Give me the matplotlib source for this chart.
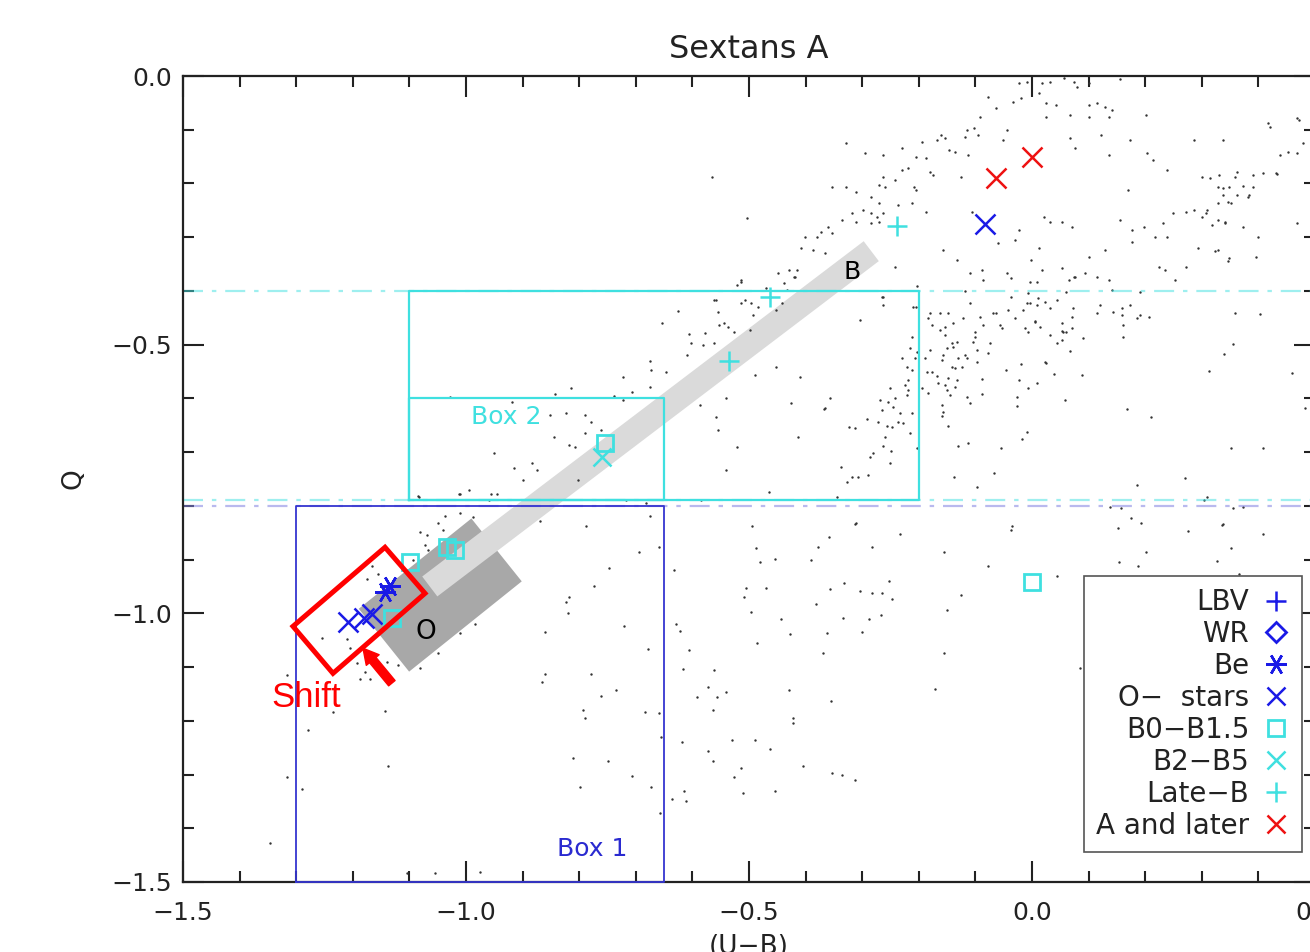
import matplotlib
matplotlib.use("Agg")
import matplotlib.pyplot as plt
from matplotlib.patches import Polygon
from matplotlib.lines import Line2D
from matplotlib.ticker import MultipleLocator

# ---------------- data (U-B, Q) ----------------
# classified stars
o_ub = [-1.2085, -1.1802, -1.1661, -0.083]
o_q = [-1.017, -1.009, -1.002, -0.276]
be_ub = [-1.143, -1.134]
be_q = [-0.961, -0.950]
b0_ub = [-0.754, -1.034, -1.019, -1.099, -1.131, 0.0]
b0_q = [-0.683, -0.877, -0.883, -0.905, -1.009, -0.942]
b2_ub = [-0.760]
b2_q = [-0.709]
lateb_ub = [-0.239, -0.463, -0.535]
lateb_q = [-0.279, -0.412, -0.531]
alate_ub = [-0.064, 0.0]
alate_q = [-0.190, -0.151]

# field stars (small black dots), read region by region
field_box2_right = [
    (-0.203, -0.391), (-0.265, -0.412), (-0.263, -0.426), (-0.304, -0.454), (-0.210, -0.430),
    (-0.212, -0.486), (-0.216, -0.507), (-0.230, -0.525), (-0.207, -0.525), (-0.203, -0.514),
    (-0.221, -0.542), (-0.212, -0.547), (-0.251, -0.581), (-0.219, -0.566), (-0.224, -0.575),
    (-0.219, -0.585), (-0.242, -0.600), (-0.221, -0.594), (-0.357, -0.600), (-0.367, -0.620),
    (-0.269, -0.603), (-0.254, -0.607), (-0.265, -0.622), (-0.246, -0.616), (-0.212, -0.628),
    (-0.233, -0.628), (-0.292, -0.639), (-0.272, -0.644), (-0.256, -0.652), (-0.247, -0.654),
    (-0.237, -0.644), (-0.228, -0.646), (-0.323, -0.654), (-0.313, -0.655), (-0.216, -0.665),
    (-0.260, -0.672), (-0.263, -0.689), (-0.249, -0.698), (-0.281, -0.702), (-0.286, -0.709),
    (-0.251, -0.721), (-0.203, -0.693), (-0.337, -0.728), (-0.307, -0.747), (-0.318, -0.747),
    (-0.290, -0.743), (-0.327, -0.756), (-0.345, -0.784), (-0.311, -0.832),
]
field_cluster = [
    (-0.180, -0.441), (-0.163, -0.441), (-0.148, -0.441), (-0.184, -0.451), (-0.122, -0.451),
    (-0.140, -0.460), (-0.069, -0.441), (-0.064, -0.441), (-0.087, -0.464), (-0.092, -0.449),
    (-0.042, -0.436), (-0.016, -0.436), (-0.030, -0.451), (-0.009, -0.423), (-0.004, -0.423),
    (0.009, -0.426), (-0.057, -0.464), (-0.053, -0.469), (-0.012, -0.469), (-0.007, -0.477),
    (0.005, -0.458), (0.014, -0.467), (-0.177, -0.464), (-0.163, -0.473), (-0.154, -0.467),
    (-0.101, -0.477), (-0.101, -0.486), (-0.104, -0.495), (-0.154, -0.482), (-0.141, -0.497),
    (-0.140, -0.505), (-0.150, -0.507), (-0.180, -0.510), (-0.189, -0.525), (-0.157, -0.520),
    (-0.159, -0.529), (-0.133, -0.495), (-0.131, -0.525), (-0.118, -0.520), (-0.115, -0.525),
    (-0.141, -0.542), (-0.136, -0.544), (-0.124, -0.542), (-0.097, -0.533), (-0.097, -0.510),
    (-0.078, -0.516), (-0.074, -0.497), (-0.186, -0.551), (-0.177, -0.551), (-0.168, -0.559),
    (-0.148, -0.562), (-0.133, -0.566), (-0.166, -0.572), (-0.154, -0.575), (-0.194, -0.581),
    (-0.184, -0.590), (-0.150, -0.585), (-0.136, -0.579), (-0.145, -0.594), (-0.115, -0.598),
    (-0.088, -0.564), (-0.088, -0.592), (-0.110, -0.609), (-0.159, -0.613), (-0.157, -0.626),
    (-0.159, -0.633), (-0.148, -0.652), (-0.113, -0.683), (-0.131, -0.689), (-0.055, -0.693),
    (-0.138, -0.747), (-0.067, -0.739), (-0.097, -0.765), (-0.046, -0.547), (-0.023, -0.566),
    (-0.019, -0.536), (-0.007, -0.581), (0.009, -0.572), (-0.027, -0.598), (-0.027, -0.615),
    (-0.009, -0.663), (-0.018, -0.676), (0.025, -0.534), (0.039, -0.555), (0.058, -0.603),
    (0.032, -0.482), (0.053, -0.492), (0.067, -0.512), (0.053, -0.475), (0.060, -0.477),
    (0.032, -0.432), (0.044, -0.417), (0.060, -0.402), (0.071, -0.449), (0.065, -0.380),
    (0.076, -0.374), (-0.044, -0.367), (-0.004, -0.384), (0.009, -0.384), (-0.087, -0.380),
    (-0.118, -0.400), (-0.110, -0.423), (-0.037, -0.412), (-0.007, -0.404), (0.011, -0.413),
    (0.023, -0.421), (-0.035, -0.838), (0.005, -0.456), (0.053, -0.460), (0.055, -0.477),
    (0.044, -0.497), (0.072, -0.432), (0.071, -0.469), (0.090, -0.488), (0.023, -0.533),
    (0.088, -0.557),
]
field_upper = [
    (-0.023, -0.013), (-0.009, -0.011), (0.012, -0.032), (0.018, -0.013), (0.032, -0.011),
    (0.057, -0.004), (0.074, -0.011), (0.080, -0.020), (0.101, -0.013), (0.155, -0.006),
    (-0.078, -0.039), (-0.064, -0.060), (-0.034, -0.048), (-0.019, -0.041), (0.025, -0.050),
    (0.042, -0.054), (0.101, -0.054), (0.115, -0.050), (0.129, -0.058), (0.141, -0.063),
    (0.067, -0.073), (0.101, -0.076), (0.136, -0.076), (0.025, -0.076), (-0.092, -0.076),
    (0.201, -0.073), (0.122, -0.110), (0.173, -0.119), (0.067, -0.115), (0.076, -0.134),
    (0.136, -0.147), (0.286, -0.119), (-0.115, -0.101), (-0.102, -0.097), (-0.095, -0.110),
    (-0.161, -0.110), (-0.154, -0.115), (-0.168, -0.119), (-0.194, -0.123), (-0.118, -0.114),
    (-0.044, -0.101), (-0.051, -0.119), (-0.230, -0.134), (-0.263, -0.147), (-0.295, -0.143),
    (-0.136, -0.142), (-0.113, -0.147), (-0.147, -0.138), (-0.205, -0.151), (-0.187, -0.153),
    (-0.329, -0.125), (-0.175, -0.184), (-0.180, -0.179), (-0.230, -0.175), (-0.219, -0.171),
    (-0.242, -0.194), (-0.263, -0.188), (-0.270, -0.203), (-0.260, -0.207), (-0.353, -0.207),
    (-0.329, -0.207), (-0.311, -0.216), (-0.208, -0.207), (-0.205, -0.212), (-0.125, -0.188),
    (-0.565, -0.188), (-0.284, -0.225), (-0.270, -0.236), (-0.237, -0.240), (-0.212, -0.236),
    (-0.299, -0.250), (-0.284, -0.255), (-0.274, -0.263), (-0.263, -0.255), (-0.318, -0.255),
    (-0.311, -0.272), (-0.336, -0.268), (-0.360, -0.281), (-0.504, -0.264), (-0.284, -0.274),
    (-0.270, -0.272), (-0.187, -0.253), (-0.106, -0.253), (-0.023, -0.287), (-0.060, -0.311),
    (-0.030, -0.305), (0.032, -0.272), (0.053, -0.272), (0.071, -0.281), (0.021, -0.263),
    (-0.353, -0.292), (-0.373, -0.291), (-0.380, -0.300), (-0.401, -0.300), (-0.387, -0.324),
    (-0.408, -0.320), (-0.366, -0.330), (-0.415, -0.361), (-0.429, -0.361), (-0.419, -0.374),
    (-0.449, -0.367), (-0.242, -0.356), (-0.157, -0.324), (-0.133, -0.343), (-0.110, -0.367),
    (-0.088, -0.361), (0.012, -0.320), (-0.002, -0.343), (0.018, -0.361), (0.053, -0.358),
    (0.074, -0.374), (0.094, -0.367), (0.136, -0.380), (0.115, -0.374), (-0.037, -0.376),
    (-0.514, -0.380), (-0.521, -0.389), (-0.558, -0.417), (-0.507, -0.417), (-0.484, -0.430),
    (-0.442, -0.423), (-0.263, -0.412), (-0.205, -0.430), (0.191, -0.402), (0.141, -0.399),
]
field_right = [
    (0.203, -0.143), (0.214, -0.156), (0.239, -0.175), (0.300, -0.188), (0.330, -0.184),
    (0.362, -0.179), (0.390, -0.184), (0.431, -0.181), (0.348, -0.207), (0.362, -0.222),
    (0.383, -0.222), (0.352, -0.236), (0.249, -0.255), (0.272, -0.253), (0.286, -0.250),
    (0.307, -0.255), (0.231, -0.274), (0.155, -0.268), (0.177, -0.287), (0.198, -0.281),
    (0.329, -0.268), (0.341, -0.272), (0.318, -0.277), (0.399, -0.300), (0.293, -0.320),
    (0.329, -0.324), (0.348, -0.339), (0.396, -0.337), (0.217, -0.300), (0.239, -0.300),
    (0.177, -0.309), (0.129, -0.324), (0.101, -0.337), (0.224, -0.356), (0.272, -0.356),
    (0.253, -0.380), (0.235, -0.361), (0.438, -0.147), (0.468, -0.143), (0.472, -0.082),
    (0.417, -0.088), (0.337, -0.119), (0.170, -0.212), (0.420, -0.095), (0.468, -0.078),
    (0.452, -0.142), (0.479, -0.125), (0.314, -0.190), (0.359, -0.188), (0.408, -0.181),
    (0.433, -0.183), (0.329, -0.207), (0.337, -0.209), (0.373, -0.205), (0.390, -0.207),
    (0.337, -0.222), (0.329, -0.236), (0.346, -0.235), (0.382, -0.225), (0.309, -0.250),
    (0.300, -0.263), (0.341, -0.274), (0.373, -0.281), (0.323, -0.326), (0.346, -0.345),
    (0.468, -0.274), (0.359, -0.441), (0.403, -0.443), (0.355, -0.499), (0.339, -0.518),
    (0.313, -0.549), (0.459, -0.553), (0.352, -0.693), (0.408, -0.693), (0.309, -0.784),
    (0.355, -0.804), (0.337, -0.834), (0.408, -0.853), (0.352, -0.879), (0.327, -0.903),
    (0.366, -0.926), (0.120, -0.426), (0.115, -0.441), (0.143, -0.439), (0.159, -0.432),
    (0.173, -0.426), (0.159, -0.445), (0.161, -0.464), (0.161, -0.486), (0.186, -0.451),
    (0.191, -0.445), (0.207, -0.449), (0.168, -0.620), (0.210, -0.635), (0.482, -0.618),
    (0.270, -0.749), (0.186, -0.762), (0.304, -0.790), (0.157, -0.804), (0.373, -0.803),
    (0.138, -0.803), (0.175, -0.823), (0.152, -0.842), (0.193, -0.832), (0.336, -0.836),
    (0.276, -0.847), (0.201, -0.886), (0.154, -0.905), (0.187, -0.912), (0.044, -0.931),
    (0.244, -0.952), (0.120, -1.028), (0.141, -1.078), (0.085, -1.101),
]
field_lower = [
    (-0.675, -0.818), (-0.788, -0.838), (-0.869, -0.829), (-0.659, -0.877), (-0.694, -0.885),
    (-0.747, -0.916), (-0.774, -0.950), (-0.818, -0.970), (-0.823, -0.978), (-0.820, -1.000),
    (-0.721, -1.024), (-0.860, -1.034), (-0.678, -1.067), (-0.779, -1.112), (-0.860, -1.112),
    (-0.866, -1.128), (-0.735, -1.143), (-0.761, -1.153), (-0.793, -1.179), (-0.790, -1.194),
    (-0.684, -1.184), (-0.659, -1.186), (-0.655, -1.231), (-0.811, -1.270), (-0.749, -1.274),
    (-0.707, -1.302), (-0.799, -1.324), (-0.673, -1.324), (-0.657, -1.372),
    (-0.495, -0.838), (-0.488, -0.879), (-0.481, -0.905), (-0.454, -0.899), (-0.390, -0.901),
    (-0.378, -0.877), (-0.359, -0.858), (-0.313, -0.834), (-0.283, -0.877), (-0.233, -0.853),
    (-0.155, -0.885), (-0.078, -0.911), (-0.037, -0.844), (-0.633, -0.920), (-0.505, -0.952),
    (-0.509, -0.970), (-0.470, -0.953), (-0.496, -0.998), (-0.443, -1.011), (-0.428, -1.039),
    (-0.486, -1.056), (-0.382, -0.983), (-0.357, -0.955), (-0.332, -0.944), (-0.304, -0.959),
    (-0.283, -0.963), (-0.265, -0.963), (-0.253, -0.940), (-0.247, -0.974), (-0.334, -1.009),
    (-0.288, -1.011), (-0.267, -1.004), (-0.362, -1.037), (-0.300, -1.035), (-0.125, -0.965),
    (-0.150, -0.994), (-0.155, -1.073), (-0.369, -1.073), (-0.629, -1.020), (-0.622, -1.032),
    (-0.606, -1.069), (-0.617, -1.104), (-0.562, -1.106), (-0.572, -1.138), (-0.541, -1.147),
    (-0.592, -1.156), (-0.557, -1.156), (-0.564, -1.179), (-0.429, -1.143), (-0.355, -1.164),
    (-0.422, -1.194), (-0.422, -1.205), (-0.171, -1.140), (-0.618, -1.240), (-0.530, -1.235),
    (-0.489, -1.236), (-0.463, -1.253), (-0.572, -1.257), (-0.564, -1.274), (-0.514, -1.287),
    (-0.527, -1.304), (-0.405, -1.285), (-0.353, -1.298), (-0.336, -1.300), (-0.313, -1.311),
    (-0.615, -1.330), (-0.511, -1.335), (-0.454, -1.331), (-0.636, -1.345), (-0.611, -1.350),
]
field_left = [
    (-1.085, -0.782), (-1.011, -0.778), (-1.037, -0.818), (-1.011, -0.814), (-0.988, -0.821),
    (-1.049, -0.832), (-1.041, -0.845), (-1.081, -0.849), (-1.069, -0.855), (-1.072, -0.873),
    (-1.067, -0.883), (-1.094, -0.901), (-1.117, -0.907), (-1.166, -0.911), (-1.175, -0.937),
    (-1.155, -0.926), (-1.210, -1.048), (-1.254, -1.045), (-1.205, -1.065), (-1.193, -1.093),
    (-1.178, -1.110), (-1.187, -1.123), (-1.170, -1.123), (-1.140, -1.091), (-1.120, -1.097),
    (-1.081, -1.101), (-1.049, -1.074), (-1.011, -1.037), (-0.984, -1.019), (-1.316, -1.115),
    (-1.235, -1.184), (-1.279, -1.218), (-1.143, -1.182), (-1.138, -1.285), (-1.316, -1.304),
    (-1.290, -1.326), (-1.346, -1.428), (-1.104, -1.484), (-1.055, -1.484), (-0.975, -1.482),
]
field_box2 = [
    (-0.514, -0.384), (-0.470, -0.395), (-0.438, -0.385), (-0.420, -0.374), (-0.433, -0.399),
    (-0.562, -0.417), (-0.514, -0.423), (-0.496, -0.423), (-0.625, -0.438), (-0.555, -0.439),
    (-0.493, -0.445), (-0.452, -0.436), (-0.654, -0.460), (-0.553, -0.464), (-0.537, -0.467),
    (-0.527, -0.477), (-0.544, -0.460), (-0.606, -0.480), (-0.578, -0.479), (-0.602, -0.497),
    (-0.581, -0.501), (-0.562, -0.497), (-0.610, -0.520), (-0.675, -0.531), (-0.673, -0.547),
    (-0.647, -0.551), (-0.723, -0.561), (-0.675, -0.579), (-0.707, -0.588), (-0.814, -0.581),
    (-0.843, -0.592), (-0.739, -0.596), (-0.723, -0.603), (-1.028, -0.598), (-0.919, -0.607),
    (-0.852, -0.631), (-0.823, -0.628), (-0.790, -0.631), (-0.779, -0.644), (-0.761, -0.659),
    (-0.790, -0.665), (-0.845, -0.672), (-0.818, -0.687), (-0.807, -0.691), (-0.915, -0.730),
    (-0.883, -0.721), (-0.875, -0.734), (-0.951, -0.702), (-0.899, -0.752), (-0.802, -0.752),
    (-0.995, -0.771), (-0.956, -0.777), (-0.945, -0.777), (-0.959, -0.790), (-1.012, -0.777),
    (-1.083, -0.784), (-0.717, -0.790), (-0.682, -0.795), (-0.498, -0.473), (-0.452, -0.542),
    (-0.489, -0.557), (-0.410, -0.561), (-0.541, -0.600), (-0.587, -0.613), (-0.426, -0.609),
    (-0.558, -0.635), (-0.555, -0.659), (-0.521, -0.691), (-0.541, -0.734), (-0.413, -0.672),
    (-0.366, -0.618), (-0.465, -0.775), (-0.585, -0.790),
]

# reference lines and selection boxes
hline_box2_top = -0.40
hline_box2_bottom = -0.79
hline_box1_top = -0.80
box1_ub = [-1.30, -0.65]
box1_q = [-1.50, -0.80]
box2_ub = [-1.10, -0.20]
box2_q = [-0.79, -0.40]
box2_inner_ub = [-1.10, -0.65]
box2_inner_q = [-0.79, -0.60]

# model sequences (grey bands): end points along the reddening direction
band_b_ub = [-1.064, -0.284]
band_b_q = [-0.950, -0.326]
band_o_ub = [-1.145, -0.946]
band_o_q = [-1.050, -0.882]

# red "Shift" annotation box
shift_box_ub = [-1.1431, -1.0724, -1.2350, -1.3057]
shift_box_q = [-0.8771, -0.9628, -1.1117, -1.0242]
shift_arrow_tail = (-1.131, -1.130)
shift_arrow_tip = (-1.182, -1.065)

xticks = [-1.5, -1.0, -0.5, 0.0, 0.5]
yticks = [-1.5, -1.0, -0.5, 0.0]

BLUE = "#1a1ae6"
CYAN = "#3fe0e0"
RED = "#ee1111"

plt.rcParams["font.family"] = ["DejaVu Sans"]
fig = plt.figure(figsize=(13.1, 9.52), dpi=100)
ax = fig.add_axes([183 / 1310, 70 / 952, 1132 / 1310, 806 / 952])
ax.set_xlim(-1.5, 0.5)
ax.set_ylim(-1.5, 0.0)

# grey bands
ax.plot(band_o_ub, band_o_q, color="#a8a8a8", lw=58, solid_capstyle="butt", zorder=1)
ax.plot(band_b_ub, band_b_q, color="#dadada", lw=18, solid_capstyle="butt", zorder=1.1)

# field dots
all_field = field_box2_right + field_cluster + field_upper + field_right + field_lower + field_left + field_box2
ax.scatter([p[0] for p in all_field], [p[1] for p in all_field], s=3.0, c="#333333",
           linewidths=0, zorder=2)

# dash-dot horizontal lines
ax.axhline(hline_box2_top, color=CYAN, lw=1.6, alpha=0.5, dashes=(9, 4, 2, 4), zorder=2.5)
ax.axhline(hline_box2_bottom, color=CYAN, lw=1.6, alpha=0.5, dashes=(9, 4, 2, 4), zorder=2.5)
ax.axhline(hline_box1_top, color="#8080e0", lw=1.6, alpha=0.55, dashes=(9, 4, 2, 4), zorder=2.5)

# boxes
def rect(ubs, qs, color, lw):
    xs = [ubs[0], ubs[1], ubs[1], ubs[0], ubs[0]]
    ys = [qs[0], qs[0], qs[1], qs[1], qs[0]]
    ax.plot(xs, ys, color=color, lw=lw, zorder=3, clip_on=False)

rect(box1_ub, box1_q, "#3535d0", 1.3)
rect(box2_ub, box2_q, CYAN, 1.6)
rect(box2_inner_ub, box2_inner_q, CYAN, 1.6)

ax.text(-0.929, -0.635, "Box 2", color=CYAN, fontsize=18, ha="center", va="center", zorder=4)
ax.text(-0.777, -1.438, "Box 1", color="#2a2ad0", fontsize=18, ha="center", va="center", zorder=4)
ax.text(-0.318, -0.365, "B", color="black", fontsize=18, ha="center", va="center", zorder=4)
ax.text(-1.071, -1.035, "O", color="black", fontsize=19, ha="center", va="center", zorder=4)

# stars
ax.plot(o_ub, o_q, "x", color=BLUE, ms=14, mew=1.8, zorder=5)
ax.plot(be_ub, be_q, marker=(6, 2, 90), ls="none", color=BLUE, ms=15, mew=1.8, zorder=5)
ax.plot(b0_ub, b0_q, "s", mfc="none", mec=CYAN, ms=12, mew=2, zorder=5)
ax.plot(b2_ub, b2_q, "x", color=CYAN, ms=13, mew=1.8, zorder=5)
ax.plot(lateb_ub, lateb_q, "+", color=CYAN, ms=14, mew=1.8, zorder=5)
ax.plot(alate_ub, alate_q, "x", color=RED, ms=14, mew=1.8, zorder=5)

# shift annotation
ax.add_patch(Polygon(list(zip(shift_box_ub, shift_box_q)), closed=True, fill=False,
                     edgecolor="red", lw=3.6, zorder=6))
ax.annotate("", xy=shift_arrow_tip, xytext=shift_arrow_tail,
            arrowprops=dict(arrowstyle="simple,head_length=0.55,head_width=0.6,tail_width=0.3",
                            color="red", mutation_scale=20, shrinkA=0, shrinkB=0), zorder=6)
ax.text(-1.2827, -1.156, "Shift", color="red", fontsize=25, family="Liberation Sans",
        ha="center", va="center", zorder=6)

# legend
handles = [
    Line2D([], [], ls="none", marker="+", color=BLUE, ms=14, mew=1.8),
    Line2D([], [], ls="none", marker="D", mfc="none", mec=BLUE, ms=10, mew=2),
    Line2D([], [], ls="none", marker=(6, 2, 90), color=BLUE, ms=15, mew=1.8),
    Line2D([], [], ls="none", marker="x", color=BLUE, ms=13, mew=1.8),
    Line2D([], [], ls="none", marker="s", mfc="none", mec=CYAN, ms=12, mew=2),
    Line2D([], [], ls="none", marker="x", color=CYAN, ms=13, mew=1.8),
    Line2D([], [], ls="none", marker="+", color=CYAN, ms=14, mew=1.8),
    Line2D([], [], ls="none", marker="x", color=RED, ms=13, mew=1.8),
]
labels = ["LBV", "WR", "Be", "O\u2212  stars", "B0\u2212B1.5", "B2\u2212B5", "Late\u2212B", "A and later"]
leg = ax.legend(handles, labels, loc="lower right", bbox_to_anchor=(0.9885, 0.0372),
                borderaxespad=0, markerfirst=False, fontsize=20, frameon=True, fancybox=False,
                edgecolor="#555555", framealpha=1, labelspacing=0.14, handlelength=1.0,
                handletextpad=0.45, borderpad=0.45)
leg.get_frame().set_linewidth(1.2)
leg.set_zorder(7)
for t in leg.get_texts():
    t.set_color("#222222")

# axes styling
ax.set_xticks(xticks)
ax.set_yticks(yticks)
ax.xaxis.set_minor_locator(MultipleLocator(0.1))
ax.yaxis.set_minor_locator(MultipleLocator(0.1))
ax.tick_params(which="both", direction="in", top=True, right=True, colors="#222222", width=1.5)
ax.tick_params(which="major", length=15, labelsize=18)
ax.tick_params(which="minor", length=8)
ax.tick_params(axis="x", pad=14)
ax.tick_params(axis="y", pad=8)
for sp in ax.spines.values():
    sp.set_linewidth(1.6)
    sp.set_color("#222222")

ax.set_title("Sextans A", fontsize=23, pad=13, color="#222222")
ax.set_xlabel("(U\u2212B)", fontsize=19, labelpad=6, color="#222222")
ax.set_ylabel("Q", fontsize=19, labelpad=18, color="#222222")

fig.savefig("out.png", dpi=100)
